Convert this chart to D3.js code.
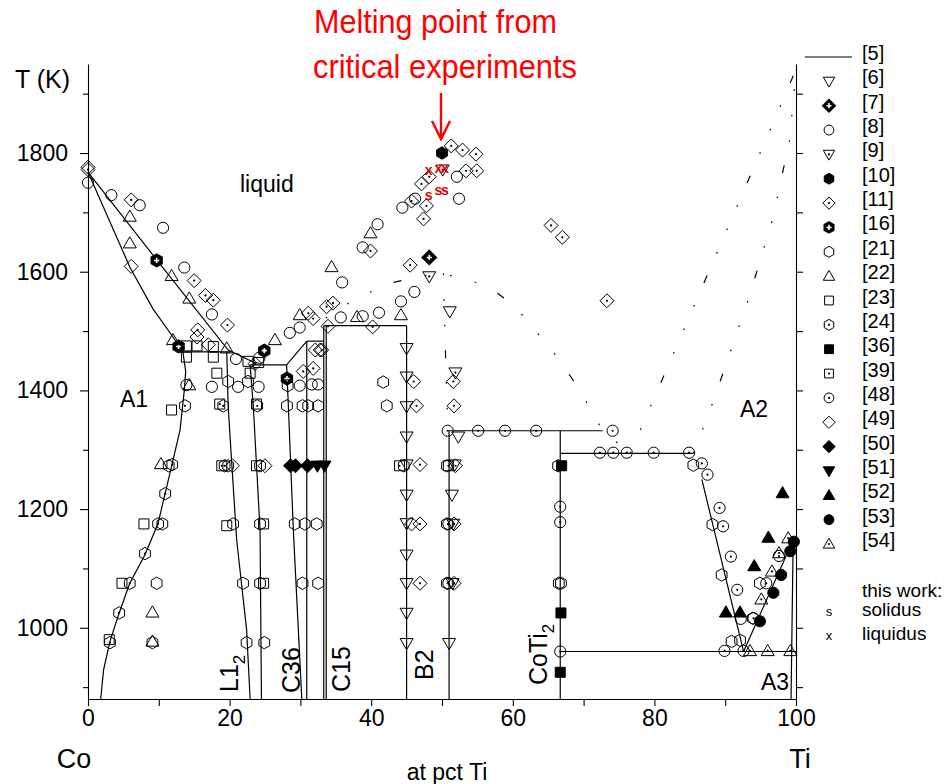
<!DOCTYPE html>
<html>
<head>
<meta charset="utf-8">
<script src="https://cdn.jsdelivr.net/npm/d3@7"></script>
<style>
  body { margin: 0; background: #fff; }
  svg { display: block; }
</style>
</head>
<body>
<svg id="chart" width="949" height="784"></svg>
<script>
// ---- phase boundaries, ref [5]  ([at pct Ti, T in K]) ----
const liqCo = [[0,1768],[9.7,1620],[19.8,1468],[23.8,1445]];
const solA1 = [[0,1768],[5.9,1608],[9.2,1537],[12.0,1490],[13.4,1465]];
const periA1 = [[12.5,1465],[20.2,1465]];
const solvA1 = [[13.4,1465],[13.8,1432],[13.6,1400],[13.0,1333],[11.8,1272],[9.9,1176],[8.05,1123],[5.9,1075],[4.4,1025],[3.1,977],[2.2,929],[1.8,880]];
const l12Left = [[19.6,1465],[19.8,1373],[20.3,1278],[21.0,1148],[22.4,997],[22.9,880]];
const l12Right = [[22.9,1443],[23.35,1373],[24.3,1165],[24.5,880]];
const eutL12 = [[22.9,1443],[28.05,1443]];
const c36Left = [[30.9,1483],[28.05,1443],[28.3,1374],[29.0,1165],[30.2,880]];
const c36Right = [[30.9,1483],[30.9,880]];
const periC36 = [[30.9,1483],[33.3,1483]];
const c15a = [[33.3,1509],[33.3,880]];
const c15b = [[33.65,1509],[33.65,880]];
const periC15 = [[33.3,1509],[45,1509]];
const b2Left = [[45,1509],[45,880]];
const b2Right = [[51,1332],[51,880]];
const periCoTi2 = [[51,1332],[72.7,1332]];
const coTi2 = [[66.7,1332],[66.7,880]];
const eutCoTi2 = [[66.7,1294],[85.5,1294]];
const solvA2 = [[86.7,1250],[92.6,960]];
const eutectoid = [[66.7,960],[100,960]];
const a2A3 = [[92.6,960],[99.6,1148]];
const solvA3 = [[99.6,1148],[99.3,880]];
// dashed (estimated) boundaries
const liqB2 = [[33.6,1522],[38.0,1556],[42.8,1581],[46.4,1591],[49.7,1597],[53.2,1589],[56.8,1573],[60.3,1542],[63.4,1498],[66.4,1454],[69.0,1409],[71.1,1366],[72.7,1332],[76.6,1294]];
const b2Dash = [[50.2,1597],[50.5,1460],[50.8,1335]];
const liqA2 = [[76.6,1294],[98.9,1910],[100,1941]];
const solA2 = [[85.5,1294],[88.3,1381],[93.4,1558],[96.7,1689],[99.1,1822],[100,1941]];

// ---- experimental points ----
const ref6 = [[45,1471],[45,1423],[45,1373],[45,1322],[45,1275],[45,1224],[45,1176],[45,1123],[45,1075],[45,1025],[45,974],
  [51.1,1533],[52.3,1322],[51.8,1275],[51.4,1224],[51.6,1175],[51.5,1075],[51.0,974]];
const ref7 = [[48.2,1624]];
const ref8 = [[0,1750],[3.3,1729],[7.3,1712],[10.6,1674],[13.6,1607],[17.5,1528],[20.9,1453],[24.2,1455],[28.5,1497],[29.9,1506],
  [35.7,1523],[35.9,1582],[38.8,1641],[38.8,1525],[40.9,1680],[41.1,1531],[44.2,1550],[44.4,1708],[46.1,1566],[46.2,1723],
  [52.1,1760],[52.4,1723],[13.9,1409],[17.5,1406],[21.2,1406],[24.1,1406],[29.9,1408],[31.6,1410],[32.5,1410],[92.2,1015]];
const ref9 = [[48.2,1592],[50.1,1772],[51.9,1430]];
const ref10 = [[50.0,1800]];
const ref11 = [[0,1772],[6.1,1721],[15.0,1585],[16.6,1560],[17.7,1552],[19.7,1510],[15.5,1502],[23.6,1445],[31.1,1530],[31.8,1521],
  [33.7,1541],[34.6,1547],[33.9,1508],[33.0,1468],[30.4,1432],[31.8,1437],[39.9,1635],[40.2,1507],[45.5,1611],[47.4,1689],
  [47.8,1711],[45.7,1719],[47.1,1748],[48.2,1760],[51.3,1812],[52.9,1805],[54.8,1798],[53.4,1770],[54.9,1770],[65.4,1678],
  [67.0,1658],[73.3,1551],[46.0,1415],[46.4,1374],[46.9,1275],[46.9,1175],[46.9,1075],[51.6,1415],[51.7,1374],[51.9,1273],
  [51.7,1175],[51.7,1075]];
const ref16 = [[9.7,1619],[12.8,1474],[24.9,1467],[28.1,1420]];
const ref21 = [[19.8,1415],[22.6,1415],[28.2,1408],[41.7,1414],[28.1,1374],[30.3,1374],[31.1,1374],[32.5,1374],[42.2,1374],
  [11.4,1273],[19.8,1273],[24.3,1273],[44.6,1273],[50.7,1273],[66.4,1273],[85.5,1274],
  [10.5,1175],[20.5,1175],[24.3,1175],[29.2,1175],[30.6,1175],[32.3,1175],[50.7,1175],[88.2,1174],
  [9.7,1075],[21.9,1075],[24.3,1075],[30.3,1075],[32.5,1075],[50.7,1075],[66.5,1075],[66.8,1075],[89.5,1089],[94.9,1075],
  [9.1,975],[22.4,975],[24.9,975],[90.9,977],[92.1,979],[93.9,1016]];
const ref22 = [[5.9,1693],[5.9,1648],[11.8,1593],[14.3,1555],[12.0,1485],[19.6,1471],[26.4,1485],[29.9,1527],[34.4,1608],
  [39.9,1665],[38.0,1524],[44.2,1527],[14.3,1409],[10.3,1276],[9.1,1026],[9.1,977]];
const ref23 = [[13.9,1475],[15.4,1475],[17.7,1474],[13.9,1456],[17.7,1456],[22.6,1449],[24.1,1447],[22.9,1429],[18.2,1429],
  [11.8,1367],[23.8,1377],[23.8,1273],[7.9,1175],[19.6,1172],[24.8,1175],[4.8,1075],[24.8,1075],[3.0,980]];
const ref24 = [[13.7,1374],[11.9,1275],[10.9,1226],[9.9,1175],[8.05,1125],[5.9,1075],[4.4,1025],[3.1,975],[19.1,1374],[23.9,1374],[19.3,1273]];
const ref36 = [[66.9,1273],[66.8,1025],[66.7,925]];
const ref39 = [[18.6,1377],[18.9,1273],[44.0,1273],[50.9,1273]];
const ref48 = [[50.8,1332],[55.1,1332],[58.9,1332],[63.3,1332],[74.1,1332],[72.3,1295],[74.2,1295],[76.1,1295],[79.9,1295],
  [84.9,1295],[86.7,1277],[87.5,1258],[89.2,1202],[89.7,1171],[90.8,1120],[91.7,1064],[89.9,961],[92.6,961],[66.7,1204],
  [66.7,1178],[66.7,960],[94.0,1016],[95.8,1075],[97.6,1121],[50.9,1175],[50.9,1075]];
const ref49 = [[0,1776],[6.1,1609],[15.4,1490],[17.0,1477],[32.1,1468],[32.8,1468],[20.4,1273],[25.0,1273],[45.7,1175]];
const ref50 = [[28.6,1273],[29.3,1273],[31.0,1273]];
const ref51 = [[32.4,1273],[33.4,1273]];
const ref52 = [[90.1,1026],[92.1,1026],[94.1,1104],[96.1,1152],[98.1,1227]];
const ref53 = [[94.9,1011],[96.8,1059],[97.9,1089],[99.2,1129],[99.7,1145]];
const ref54 = [[93.5,961],[96.0,961],[99.2,961],[95.1,1048],[96.6,1095],[97.6,1126],[98.9,1151]];
// this work
const solidusThisWork = [[48.1,1730],[49.5,1738],[50.4,1738]];
const liquidusThisWork = [[48.1,1771],[49.5,1774],[50.4,1774]];

const xTicks = d3.range(0, 101, 10);
const yTicks = d3.range(900, 2000, 100);

const series = [
  {ref: '[6]',  data: ref6,  kind: 'triDown'},
  {ref: '[7]',  data: ref7,  kind: 'diamond', fill: true, cross: true},
  {ref: '[8]',  data: ref8,  kind: 'circle'},
  {ref: '[9]',  data: ref9,  kind: 'triDown', dot: true},
  {ref: '[10]', data: ref10, kind: 'hex', fill: true},
  {ref: '[11]', data: ref11, kind: 'diamond', dot: true},
  {ref: '[16]', data: ref16, kind: 'hex', fill: true, cross: true},
  {ref: '[21]', data: ref21, kind: 'hex'},
  {ref: '[22]', data: ref22, kind: 'triUp'},
  {ref: '[23]', data: ref23, kind: 'square'},
  {ref: '[24]', data: ref24, kind: 'hex', dot: true},
  {ref: '[36]', data: ref36, kind: 'square', fill: true},
  {ref: '[39]', data: ref39, kind: 'square', dot: true},
  {ref: '[48]', data: ref48, kind: 'circle', dot: true},
  {ref: '[49]', data: ref49, kind: 'diamond'},
  {ref: '[50]', data: ref50, kind: 'diamond', fill: true},
  {ref: '[51]', data: ref51, kind: 'triDown', fill: true},
  {ref: '[52]', data: ref52, kind: 'triUp', fill: true},
  {ref: '[53]', data: ref53, kind: 'circle', fill: true},
  {ref: '[54]', data: ref54, kind: 'triUp', dot: true}
];

const FONT = 'Liberation Sans, Arial, Helvetica, sans-serif';

const svg = d3.select('#chart');
const x = d3.scaleLinear().domain([0, 100]).range([88, 796]);
const y = d3.scaleLinear().domain([880, 1950]).range([699, 64]);

// symbol outline, centred on 0,0
function shape(kind, s) {
  const p = d3.path();
  if (kind === 'circle') {
    const r = 5.6*s;
    p.moveTo(r, 0); p.arc(0, 0, r, 0, 2*Math.PI);
  } else if (kind === 'square') {
    const r = 5*s;
    p.rect(-r, -r, 2*r, 2*r);
  } else if (kind === 'diamond') {
    const r = 7*s;
    p.moveTo(0, -r); p.lineTo(r, 0); p.lineTo(0, r); p.lineTo(-r, 0);
  } else if (kind === 'triUp' || kind === 'triDown') {
    const r = 6.5*s, k = kind === 'triUp' ? 1 : -1;
    p.moveTo(0, -r*k); p.lineTo(r, 0.72*r*k); p.lineTo(-r, 0.72*r*k);
  } else if (kind === 'hex') {
    const r = 6.2*s;
    for (let i = 0; i < 6; i++) {
      const a = -Math.PI/2 + i*Math.PI/3;
      if (i === 0) p.moveTo(r*Math.cos(a), r*Math.sin(a)); else p.lineTo(r*Math.cos(a), r*Math.sin(a));
    }
  }
  p.closePath();
  return p.toString();
}

function drawMarker(g, ser, s) {
  g.append('path')
    .attr('d', shape(ser.kind, s))
    .attr('fill', ser.fill ? '#000' : 'none')
    .attr('stroke', '#000')
    .attr('stroke-width', ser.fill && ser.cross ? 1.6 : 1);
  if (ser.dot) g.append('circle').attr('r', 1.1).attr('fill', '#000');
  if (ser.cross) {
    g.append('path').attr('d', 'M-2.6,0H2.6M0,-2.6V2.6')
      .attr('stroke', '#fff').attr('stroke-width', 1.6);
  }
}

// ---- axes ----
const gLeft = svg.append('g').attr('transform', 'translate(88,0)')
  .call(d3.axisLeft(y).tickValues(yTicks)
    .tickFormat(d => (d % 200 === 0 && d >= 1000 && d <= 1800) ? d : '')
    .tickSize(8).tickPadding(12).tickSizeOuter(0));
gLeft.selectAll('.tick line').attr('x2', d => d % 200 === 0 ? -8 : -5);

const gRight = svg.append('g').attr('transform', 'translate(796,0)')
  .call(d3.axisRight(y).tickValues(yTicks).tickFormat('').tickSize(7).tickSizeOuter(0));

const gBottom = svg.append('g').attr('transform', 'translate(0,699)')
  .call(d3.axisBottom(x).tickValues(xTicks)
    .tickFormat(d => d % 20 === 0 ? d : '')
    .tickSize(7).tickPadding(4).tickSizeOuter(0));

[gLeft, gRight, gBottom].forEach(g => {
  g.attr('font-family', FONT).attr('font-size', 23);
  g.selectAll('path, line').attr('stroke', '#000').attr('stroke-width', 1.1);
  g.selectAll('text').attr('fill', '#000');
});

// ---- phase boundaries ----
const line = d3.line().x(d => x(d[0])).y(d => y(d[1]));
const solid = [liqCo, solA1, periA1, solvA1, l12Left, l12Right, eutL12, c36Left, c36Right, periC36,
  c15a, c15b, periC15, b2Left, b2Right, periCoTi2, coTi2, eutCoTi2, solvA2, eutectoid, a2A3, solvA3];
svg.append('g').selectAll('path').data(solid).join('path')
  .attr('d', line).attr('fill', 'none').attr('stroke', '#000').attr('stroke-width', 1.2);

const dashed = [liqB2, b2Dash, liqA2, solA2];
svg.append('g').selectAll('path').data(dashed).join('path')
  .attr('d', line).attr('fill', 'none').attr('stroke', '#000').attr('stroke-width', 1.2)
  .attr('stroke-dasharray', '1.6,24,1.6,24,1.6,24,8,24');

// ---- experimental markers ----
series.forEach(ser => {
  svg.append('g').selectAll('g').data(ser.data).join('g')
    .attr('transform', d => `translate(${x(d[0])},${y(d[1])})`)
    .each(function() { drawMarker(d3.select(this), ser, 1); });
});

// this work
const tw = svg.append('g').attr('fill', '#e00000').attr('font-family', FONT)
  .attr('font-size', 14).attr('font-weight', 'bold').attr('text-anchor', 'middle');
tw.selectAll('text.s').data(solidusThisWork).join('text').attr('class', 's')
  .attr('x', d => x(d[0])).attr('y', d => y(d[1]) + 5).text('s');
tw.selectAll('text.x').data(liquidusThisWork).join('text').attr('class', 'x')
  .attr('x', d => x(d[0])).attr('y', d => y(d[1]) + 5).text('x');

// ---- region / phase labels ----
const labels = svg.append('g').attr('font-family', FONT).attr('font-size', 23).attr('fill', '#000');
labels.append('text').attr('x', 240).attr('y', 192).text('liquid');
labels.append('text').attr('x', 120).attr('y', 407).text('A1');
labels.append('text').attr('x', 740).attr('y', 417).text('A2');
labels.append('text').attr('x', 761).attr('y', 690).text('A3');

function vLabel(px, py, main, sub) {
  const t = labels.append('text')
    .attr('transform', `translate(${px},${py}) rotate(-90)`)
    .attr('font-size', 25);
  t.append('tspan').text(main);
  if (sub) t.append('tspan').attr('font-size', 17).attr('dy', 7).text(sub);
}
vLabel(238, 692, 'L1', '2');
vLabel(300, 693, 'C36');
vLabel(350, 692, 'C15');
vLabel(433, 680, 'B2');
vLabel(547, 685, 'CoTi', '2');

// axis titles
const titles = svg.append('g').attr('font-family', FONT).attr('fill', '#000');
titles.append('text').attr('x', 15).attr('y', 88).attr('font-size', 25).text('T (K)');
titles.append('text').attr('x', 74).attr('y', 768).attr('font-size', 27).attr('text-anchor', 'middle').text('Co');
titles.append('text').attr('x', 800).attr('y', 768).attr('font-size', 27).attr('text-anchor', 'middle').text('Ti');
titles.append('text').attr('x', 447).attr('y', 780).attr('font-size', 23).attr('text-anchor', 'middle').text('at pct Ti');

// ---- annotation (narrow lettering) ----
const ann = svg.append('g').attr('fill', '#ff0000').attr('font-family', FONT).attr('font-size', 34);
ann.append('text').attr('x', 314).attr('y', 33)
  .attr('textLength', 243).attr('lengthAdjust', 'spacingAndGlyphs').text('Melting point from');
ann.append('text').attr('x', 313).attr('y', 78)
  .attr('textLength', 264).attr('lengthAdjust', 'spacingAndGlyphs').text('critical experiments');
svg.append('path').attr('d', 'M441,93V139M432,121L441,139L450,121')
  .attr('fill', 'none').attr('stroke', '#ff0000').attr('stroke-width', 2.4);

// ---- legend ----
const leg = svg.append('g').attr('font-family', FONT).attr('font-size', 20).attr('fill', '#000');
const rowY = i => 57 + 24.35*i;
leg.append('line').attr('x1', 805).attr('x2', 852).attr('y1', rowY(0)).attr('y2', rowY(0))
  .attr('stroke', '#000').attr('stroke-width', 1.2);
leg.append('text').attr('x', 862).attr('y', rowY(0) + 3).text('[5]');
series.forEach((ser, i) => {
  const g = leg.append('g').attr('transform', `translate(829,${rowY(i + 1)})`);
  drawMarker(g, ser, 0.88);
  leg.append('text').attr('x', 862).attr('y', rowY(i + 1) + 3).text(ser.ref);
});
leg.append('text').attr('x', 862).attr('y', 597).attr('font-size', 19).text('this work:');
leg.append('text').attr('x', 862).attr('y', 616).attr('font-size', 19).text('solidus');
leg.append('text').attr('x', 862).attr('y', 640).attr('font-size', 19).text('liquidus');
leg.append('text').attr('x', 829).attr('y', 616).attr('font-size', 13).attr('text-anchor', 'middle').text('s');
leg.append('text').attr('x', 829).attr('y', 640).attr('font-size', 13).attr('text-anchor', 'middle').text('x');
</script>
</body>
</html>
